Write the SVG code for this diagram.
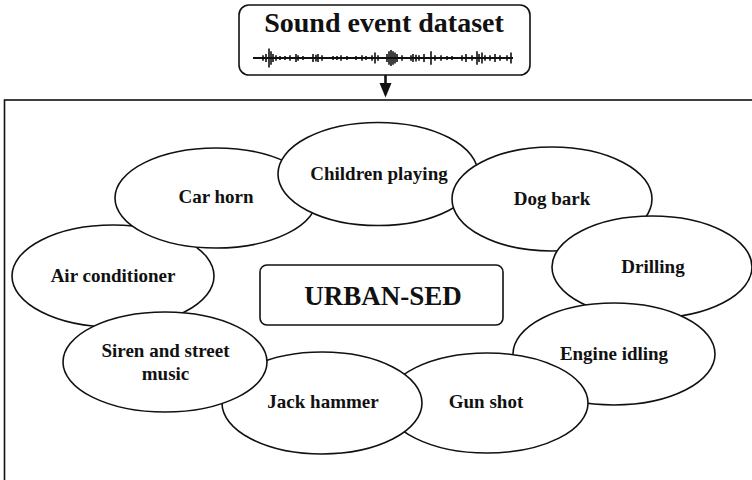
<svg xmlns="http://www.w3.org/2000/svg" width="752" height="480" viewBox="0 0 752 480">
  <style>
    .node ellipse { fill: #fff; stroke: #111; stroke-width: 1.6; }
    .lbl { font-family: "Liberation Serif", "Times New Roman", serif; font-weight: bold; font-size: 19px; fill: #111; text-anchor: middle; }
    .box { fill: #fff; stroke: #111; stroke-width: 1.6; }
  </style>
  <rect width="752" height="480" fill="#fff"/>

  <!-- source dataset -->
  <g id="dataset">
    <rect class="box" x="239" y="5" width="291" height="70" rx="10"/>
    <text x="384" y="31.5" style="font-family:'Liberation Serif','Times New Roman',serif;font-weight:bold;font-size:28px;fill:#111" text-anchor="middle">Sound event dataset</text>
    <!-- waveform strip -->
    <path d="M253 58 H513" stroke="#111" stroke-width="1.8" fill="none"/>
    <path stroke="#111" stroke-width="1.6" fill="none" transform="translate(0,58) scale(1,1.35) translate(0,-58)" d="
      M263 56V60 M266 55V61 M269 51V65 M271 53V63 M273 55V61 M276 56V60 M280 56.5V59.5 M285 56.5V59.5
      M290 56V60 M296 55V61 M298 56V60 M303 56.5V59.5 M313 55V61 M316 55.5V60.5 M318 55V61 M322 56V60
      M333 56.5V59.5 M337 56.5V59.5 M341 56V60 M347 56.5V59.5 M356 56.5V59.5 M362 56V60 M366 56.5V59.5
      M372 56V60 M375 54V62 M378 56V60 M387 55V61 M389 53V63 M391 52V64 M393 53V63 M395 54V62 M397 55V61
      M402 56V60 M411 56V60 M413 55V61 M416 55.5V60.5 M419 56V60 M424 55V61 M431 53V63 M435 56V60
      M441 56V60 M447 56.5V59.5 M452 56.5V59.5 M462 56V60 M466 55V61 M472 56V60 M477 53V63 M479 55V61
      M482 54V62 M485 56V60 M490 56V60 M495 55V61 M500 56V60 M507 56V60 M511 54V62"/>
  </g>

  <!-- connectors -->
  <g id="connectors">
    <path d="M385.5 75 V84" stroke="#111" stroke-width="2.6" fill="none"/>
    <polygon points="379.5,83 391.5,83 385.5,97.5" fill="#111"/>
  </g>

  <!-- container -->
  <rect id="container" x="4.5" y="100" width="760" height="400" fill="none" stroke="#111" stroke-width="1.6"/>

  <!-- central label -->
  <g id="urban-sed">
    <rect class="box" x="260" y="265" width="243" height="60" rx="7"/>
    <text x="383" y="305" style="font-family:'Liberation Serif','Times New Roman',serif;font-weight:bold;font-size:27px;fill:#111" text-anchor="middle">URBAN-SED</text>
  </g>

  <!-- class ellipses, drawn bottom to top -->
  <g id="air-conditioner" class="node">
    <ellipse cx="113" cy="276" rx="101" ry="51"/>
    <text class="lbl" x="113" y="282">Air conditioner</text>
  </g>
  <g id="car-horn" class="node">
    <ellipse cx="216" cy="198" rx="101" ry="50"/>
    <text class="lbl" x="216" y="203">Car horn</text>
  </g>
  <g id="children-playing" class="node">
    <ellipse cx="378" cy="174" rx="100" ry="51.5"/>
    <text class="lbl" x="379" y="180">Children playing</text>
  </g>
  <g id="dog-bark" class="node">
    <ellipse cx="552" cy="199" rx="100" ry="52"/>
    <text class="lbl" x="552" y="205">Dog bark</text>
  </g>
  <g id="drilling" class="node">
    <ellipse cx="652" cy="267" rx="100" ry="51"/>
    <text class="lbl" x="653" y="273">Drilling</text>
  </g>
  <g id="engine-idling" class="node">
    <ellipse cx="614" cy="354" rx="101" ry="51"/>
    <text class="lbl" x="614" y="360">Engine idling</text>
  </g>
  <g id="gun-shot" class="node">
    <ellipse cx="487" cy="403" rx="101" ry="50"/>
    <text class="lbl" x="486" y="408">Gun shot</text>
  </g>
  <g id="jack-hammer" class="node">
    <ellipse cx="322" cy="403" rx="100" ry="51"/>
    <text class="lbl" x="323" y="408">Jack hammer</text>
  </g>
  <g id="siren-street-music" class="node">
    <ellipse cx="165" cy="362" rx="102" ry="50"/>
    <text class="lbl" x="165.5" y="357">Siren and street</text>
    <text class="lbl" x="165.5" y="380">music</text>
  </g>
</svg>
